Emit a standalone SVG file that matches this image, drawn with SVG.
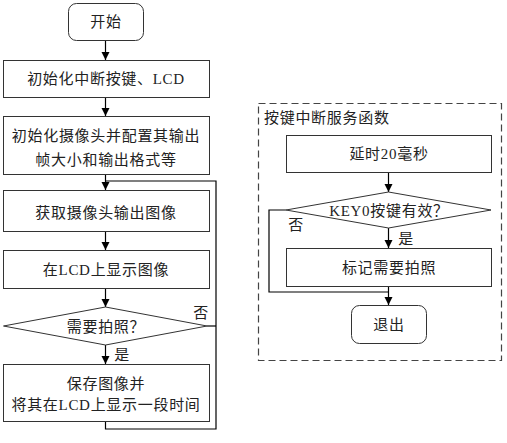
<svg xmlns="http://www.w3.org/2000/svg" width="507" height="443" viewBox="0 0 507 443">
<style>
.b{fill:#fff;stroke:#333;stroke-width:1}
.l{fill:none;stroke:#000;stroke-width:1.2}
text{font-family:"Liberation Serif","Noto Sans CJK SC",serif;font-size:15px;fill:#222;text-anchor:middle;letter-spacing:0.7px}
.s{text-anchor:start}
</style>
<defs>
<marker id="a" viewBox="0 0 10 10" refX="10" refY="5" markerWidth="8" markerHeight="9" markerUnits="userSpaceOnUse" orient="auto">
<path d="M0,0L10,5L0,10z" fill="#000"/>
</marker>
</defs>
<rect width="507" height="443" fill="#fff"/>
<g id="connectors">
<path class="l" d="M105.5,40V60" marker-end="url(#a)"/>
<path class="l" d="M105.5,97V116" marker-end="url(#a)"/>
<path class="l" d="M105.5,174V190" marker-end="url(#a)"/>
<path class="l" d="M105.5,231V250" marker-end="url(#a)"/>
<path class="l" d="M105.5,288V307" marker-end="url(#a)"/>
<path class="l" d="M105.5,345V364" marker-end="url(#a)"/>
<path class="l" d="M105.5,421V429H216V181H105.5"/>
<path class="l" d="M207,326H216"/>
<path class="l" d="M388.5,172V192" marker-end="url(#a)"/>
<path class="l" d="M388.5,228V248" marker-end="url(#a)"/>
<path class="l" d="M286,210H269V292H388.5"/>
<path class="l" d="M388.5,286V305" marker-end="url(#a)"/>
</g>
<g id="panel">
<rect x="258.5" y="103.5" width="243" height="257" fill="none" stroke="#444" stroke-width="1.2" stroke-dasharray="7,4"/>
<text class="s" x="264" y="123">按键中断服务函数</text>
</g>
<g id="start"><rect class="b" x="68.5" y="3.5" width="75" height="37" rx="8"/><text x="106" y="27">开始</text></g>
<g id="init1"><rect class="b" x="3.5" y="60.5" width="206" height="37"/><text x="106" y="84">初始化中断按键、LCD</text></g>
<g id="init2"><rect class="b" x="3.5" y="116.5" width="206" height="58"/><text x="106" y="141">初始化摄像头并配置其输出</text><text x="106" y="165">帧大小和输出格式等</text></g>
<g id="capture"><rect class="b" x="3.5" y="190.5" width="206" height="41"/><text x="106" y="218">获取摄像头输出图像</text></g>
<g id="display"><rect class="b" x="3.5" y="250.5" width="206" height="38"/><text x="106" y="275">在LCD上显示图像</text></g>
<g id="decide"><path class="b" d="M105.5,307L207,326L105.5,345L3.5,326Z"/><text x="106" y="332">需要拍照？</text><text x="201" y="318">否</text><text x="122" y="360">是</text></g>
<g id="save"><rect class="b" x="3.5" y="364.5" width="206" height="57"/><text x="106" y="389">保存图像并</text><text x="106" y="410">将其在LCD上显示一段时间</text></g>
<g id="delay"><rect class="b" x="286.5" y="135.5" width="205" height="37"/><text x="389" y="159">延时20毫秒</text></g>
<g id="keycheck"><path class="b" d="M388.5,192L491,210L388.5,228L286,210Z"/><text x="389" y="216">KEY0按键有效？</text><text x="296" y="230">否</text><text x="406" y="244">是</text></g>
<g id="mark"><rect class="b" x="286.5" y="248.5" width="205" height="38"/><text x="389" y="273">标记需要拍照</text></g>
<g id="exit"><rect class="b" x="351.5" y="305.5" width="75" height="38" rx="8"/><text x="389" y="330">退出</text></g>
</svg>
